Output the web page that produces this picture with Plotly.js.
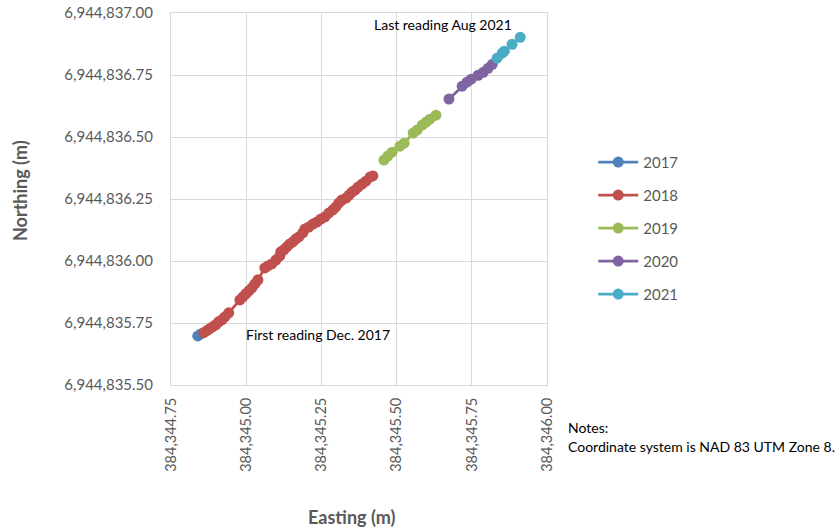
<!DOCTYPE html>
<html>
<head>
<meta charset="utf-8">
<script src="https://cdn.plot.ly/plotly-3.0.1.min.js"></script>
<style>html,body{margin:0;padding:0;background:#fff;}#chart{width:838px;height:532px;}</style>
</head>
<body>
<div id="chart"></div>
<script>
// Readings (easting, northing) by year
const years = ["2017", "2018", "2019", "2020", "2021"];
const colors = ["#4F81BD", "#C0504D", "#9BBB59", "#8064A2", "#4BACC6"];

const east2017 = [384344.839, 384344.849];
const north2017 = [6944835.698, 6944835.706];

const east2018 = [384344.859, 384344.869, 384344.879, 384344.889, 384344.899, 384344.909, 384344.919, 384344.929, 384344.942,
  384344.979, 384344.989, 384344.999, 384345.009, 384345.019, 384345.029, 384345.039,
  384345.062, 384345.072, 384345.085, 384345.099, 384345.112, 384345.115, 384345.125, 384345.135, 384345.145,
  384345.155, 384345.165, 384345.175, 384345.188, 384345.195, 384345.208, 384345.222, 384345.235, 384345.248,
  384345.262, 384345.275, 384345.288, 384345.298, 384345.308, 384345.318, 384345.332, 384345.342, 384345.352,
  384345.362, 384345.372, 384345.385, 384345.398, 384345.412, 384345.421];
const north2018 = [6944835.711, 6944835.719, 6944835.727, 6944835.735, 6944835.743, 6944835.755, 6944835.763, 6944835.775, 6944835.791,
  6944835.843, 6944835.855, 6944835.868, 6944835.880, 6944835.892, 6944835.908, 6944835.924,
  6944835.972, 6944835.980, 6944835.988, 6944836.004, 6944836.021, 6944836.037, 6944836.045, 6944836.057, 6944836.069,
  6944836.077, 6944836.089, 6944836.097, 6944836.113, 6944836.129, 6944836.137, 6944836.149, 6944836.157, 6944836.169,
  6944836.178, 6944836.194, 6944836.206, 6944836.218, 6944836.234, 6944836.246, 6944836.254, 6944836.266, 6944836.278,
  6944836.286, 6944836.298, 6944836.310, 6944836.322, 6944836.339, 6944836.343];

const east2019 = [384345.458, 384345.471, 384345.485, 384345.511, 384345.525, 384345.555, 384345.568, 384345.585, 384345.598, 384345.611, 384345.631];
const north2019 = [6944836.407, 6944836.423, 6944836.439, 6944836.463, 6944836.475, 6944836.516, 6944836.528, 6944836.548, 6944836.560, 6944836.572, 6944836.588];

const east2020 = [384345.674, 384345.718, 384345.734, 384345.748, 384345.771, 384345.788, 384345.804, 384345.818];
const north2020 = [6944836.653, 6944836.705, 6944836.721, 6944836.733, 6944836.749, 6944836.761, 6944836.777, 6944836.793];

const east2021 = [384345.834, 384345.851, 384345.858, 384345.884, 384345.911];
const north2021 = [6944836.818, 6944836.838, 6944836.846, 6944836.874, 6944836.902];

const xTicks = [384344.75, 384345.00, 384345.25, 384345.50, 384345.75, 384346.00];
const yTicks = [6944835.50, 6944835.75, 6944836.00, 6944836.25, 6944836.50, 6944836.75, 6944837.00];

const noteLines = ["Notes:", "Coordinate system is NAD 83 UTM Zone 8."];

const eastAll = [east2017, east2018, east2019, east2020, east2021];
const northAll = [north2017, north2018, north2019, north2020, north2021];

const FONT = "Lato, 'Open Sans', sans-serif";
const GREY = "#595959";

const traces = years.map((yr, i) => ({
  type: "scatter",
  mode: "lines+markers",
  name: yr,
  legendgroup: yr,
  x: eastAll[i],
  y: northAll[i],
  line: {color: colors[i], width: 2.75},
  marker: {color: colors[i], size: 11}
}));

const noteAnns = noteLines.map((t, i) => ({
  text: t, xref: "paper", yref: "paper",
  x: (566 - 171) / 376, y: (385 - (428 + 18 * i)) / 372,
  xanchor: "left", yanchor: "middle", align: "left", showarrow: false,
  font: {family: FONT, size: 14, color: "#000"}
}));

const layout = {
  width: 838, height: 532,
  margin: {l: 171, r: 291, t: 13, b: 147},
  paper_bgcolor: "#fff", plot_bgcolor: "#fff",
  font: {family: FONT, color: GREY, size: 14},
  showlegend: true,
  legend: {
    x: 1.123, xanchor: "left", y: 0.643, yanchor: "top",
    font: {family: FONT, size: 15, color: GREY},
    tracegroupgap: 10.5,
    itemwidth: 40,
    bgcolor: "rgba(0,0,0,0)"
  },
  xaxis: {
    range: [xTicks[0], xTicks[xTicks.length - 1]],
    tickvals: xTicks, tickformat: ",.2f", tickangle: -90,
    showgrid: true, gridcolor: "#d9d9d9", gridwidth: 1,
    showline: true, linecolor: "#d9d9d9", linewidth: 1, mirror: true,
    zeroline: false, ticks: "", ticklabelstandoff: 6,
    tickfont: {family: FONT, size: 14.5, color: GREY}
  },
  yaxis: {
    range: [yTicks[0], yTicks[yTicks.length - 1]],
    tickvals: yTicks, tickformat: ",.2f",
    showgrid: true, gridcolor: "#d9d9d9", gridwidth: 1,
    showline: true, linecolor: "#d9d9d9", linewidth: 1, mirror: true,
    zeroline: false, ticks: "", ticklabelstandoff: 14,
    tickfont: {family: FONT, size: 15, color: GREY}
  },
  annotations: [
    {text: "<b>Northing (m)</b>", xref: "paper", yref: "paper", x: -151/376, y: (385 - 191) / 372,
     xanchor: "center", yanchor: "middle", textangle: -90, showarrow: false,
     font: {family: FONT, size: 18, color: GREY}},
    {text: "<b>Easting (m)</b>", xref: "paper", yref: "paper", x: (352 - 171) / 376, y: (385 - 517) / 372,
     xanchor: "center", yanchor: "middle", showarrow: false,
     font: {family: FONT, size: 18, color: GREY}},
    {text: "Last reading Aug 2021", xref: "paper", yref: "paper", x: (372 - 171) / 376, y: (385 - 25) / 372,
     xanchor: "left", yanchor: "middle", showarrow: false,
     font: {family: FONT, size: 14, color: "#000"}},
    {text: "First reading Dec. 2017", xref: "paper", yref: "paper", x: (244 - 171) / 376, y: (385 - 334) / 372,
     xanchor: "left", yanchor: "middle", showarrow: false,
     font: {family: FONT, size: 14, color: "#000"}}
  ].concat(noteAnns)
};

Plotly.newPlot("chart", traces, layout, {displayModeBar: false, staticPlot: true});
</script>
</body>
</html>
